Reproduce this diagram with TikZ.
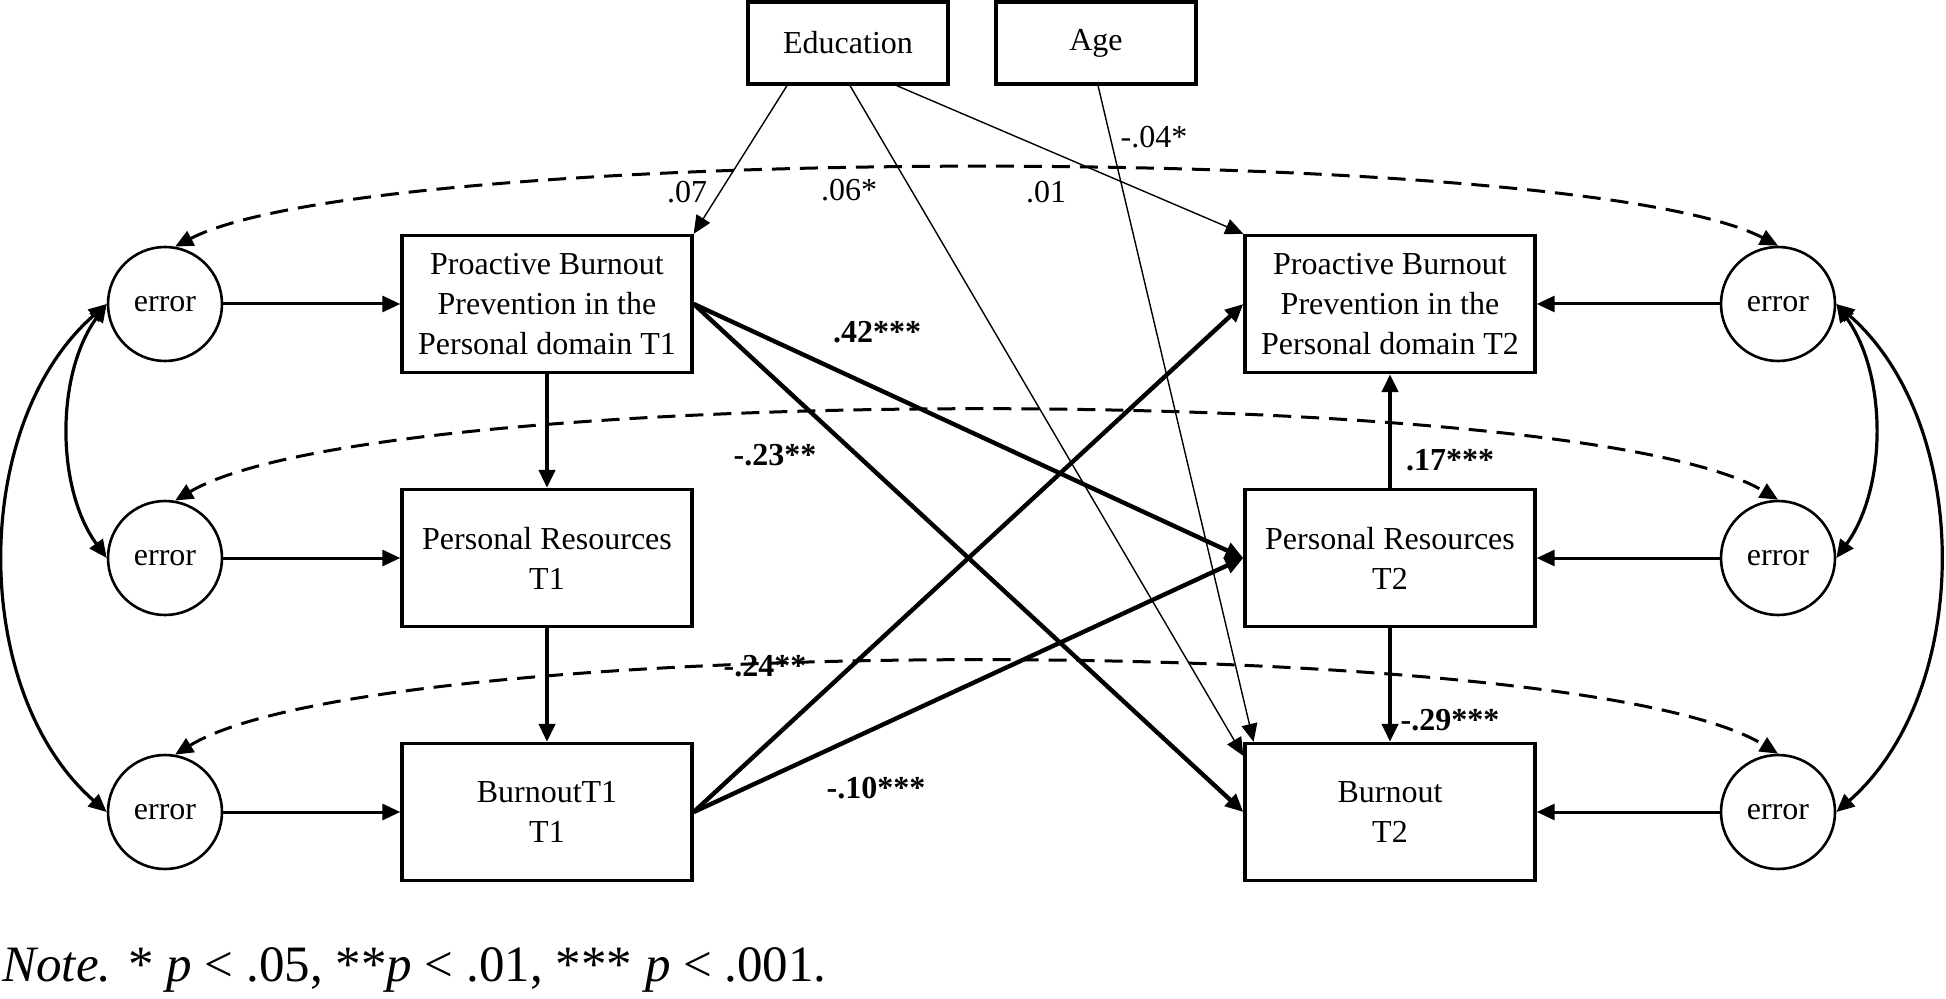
\documentclass[tikz,border=0pt]{standalone}
\usepackage{fontspec}
\setmainfont{Liberation Serif}
\usetikzlibrary{arrows.meta,calc}
\begin{document}
\begin{tikzpicture}[x=0.5pt,y=-0.5pt,
  tri/.style={-{Triangle[length=9pt,width=8pt]}},
  boxn/.style={draw,line width=1.7pt,minimum width=145pt,minimum height=68.5pt,align=center,inner sep=0pt,font=\fontsize{16}{20}\selectfont},
  topbox/.style={draw,line width=1.7pt,minimum width=100pt,minimum height=41pt,inner sep=0pt,font=\fontsize{16}{20}\selectfont},
  errn/.style={draw,circle,line width=1.3pt,minimum size=57pt,inner sep=0pt,font=\fontsize{16}{20}\selectfont},
  thickarr/.style={line width=2.2pt,tri},
  thinarr/.style={line width=0.7pt,tri},
  errarr/.style={line width=1.5pt,tri},
  cov/.style={line width=1.6pt,{Triangle[length=9pt,width=8pt]}-{Triangle[length=9pt,width=8pt]}},
  dcov/.style={cov,line width=1.5pt,dash pattern=on 9pt off 5pt},
  lab/.style={font=\fontsize{16}{20}\selectfont,inner sep=0pt},
  blab/.style={font=\fontsize{16}{20}\selectfont\bfseries,inner sep=0pt}
]
\useasboundingbox (0,0) rectangle (1946,999);

\node[topbox] (edu) at (848,43) {Education};
\node[topbox] (age) at (1096,43) {Age};

\node[boxn] (p1) at (547,304) {Proactive Burnout\\Prevention in the\\Personal domain T1};
\node[boxn] (r1) at (547,558) {Personal Resources\\T1};
\node[boxn] (b1) at (547,812) {BurnoutT1\\T1};
\node[boxn] (p2) at (1390,304) {Proactive Burnout\\Prevention in the\\Personal domain T2};
\node[boxn] (r2) at (1390,558) {Personal Resources\\T2};
\node[boxn] (b2) at (1390,812) {Burnout\\T2};

\node[errn] (le1) at (165,304) {error};
\node[errn] (le2) at (165,558) {error};
\node[errn] (le3) at (165,812) {error};
\node[errn] (re1) at (1778,304) {error};
\node[errn] (re2) at (1778,558) {error};
\node[errn] (re3) at (1778,812) {error};

% error arrows
\draw[errarr] (le1) -- (p1);
\draw[errarr] (le2) -- (r1);
\draw[errarr] (le3) -- (b1);
\draw[errarr] (re1) -- (p2);
\draw[errarr] (re2) -- (r2);
\draw[errarr] (re3) -- (b2);

% vertical paths
\draw[thickarr] (p1) -- (r1);
\draw[thickarr] (r1) -- (b1);
\draw[thickarr] (r2) -- (p2);
\draw[thickarr] (r2) -- (b2);

% cross-lagged
\draw[thickarr] (p1.east) -- (r2.west);
\draw[thickarr] (p1.east) -- (b2.west);
\draw[thickarr] (b1.east) -- (p2.west);
\draw[thickarr] (b1.east) -- (r2.west);

% covariates
\draw[thinarr] ($(edu.south west)!0.2!(edu.south east)$) -- (p1.north east);
\draw[thinarr] ($(edu.south west)!0.51!(edu.south east)$) -- ($(b2.north west)!0.1!(b2.south west)$);
\draw[thinarr] ($(edu.south west)!0.74!(edu.south east)$) -- (p2.north west);
\draw[thinarr] ($(age.south west)!0.51!(age.south east)$) -- ($(b2.north west)!0.035!(b2.north east)$);

% residual covariances
\draw[cov] (le1.west) .. controls +(-51,70) and +(-51,-70) .. (le2.west);
\draw[cov] (le1.west) .. controls +(-137,120) and +(-137,-120) .. (le3.west);
\draw[cov] (re1.east) .. controls +(51,70) and +(51,-70) .. (re2.east);
\draw[cov] (re1.east) .. controls +(137,120) and +(137,-120) .. (re3.east);

\draw[dcov] (le1.80) .. controls +(200,-104) and +(-200,-104) .. (re1.90);
\draw[dcov] (le2.80) .. controls +(200,-119) and +(-200,-119) .. (re2.90);
\draw[dcov] (le3.80) .. controls +(200,-123) and +(-200,-123) .. (re3.90);

% labels
\node[lab] (l1) at (687,192) {.07};
\node[lab] (l2) at (849,190) {.06*};
\node[lab] (l3) at (1046,192) {.01};
\node[lab] (l4) at (1154,137) {-.04*};
\node[blab] (l5) at (877,332) {.42***};
\node[blab] (l6) at (775,455) {-.23**};
\node[blab] (l7) at (765,666) {-.24**};
\node[blab] (l8) at (1450,460) {.17***};
\node[blab] (l9) at (1450,720) {-.29***};
\node[blab] (l10) at (876,788) {-.10***};

\node[anchor=base west,inner sep=0pt,font=\fontsize{25.5}{30}\selectfont] (note) at (2,981) {\textit{Note.} * \textit{p} < .05, **\textit{p} < .01, *** \textit{p} < .001.};
\end{tikzpicture}
\end{document}
